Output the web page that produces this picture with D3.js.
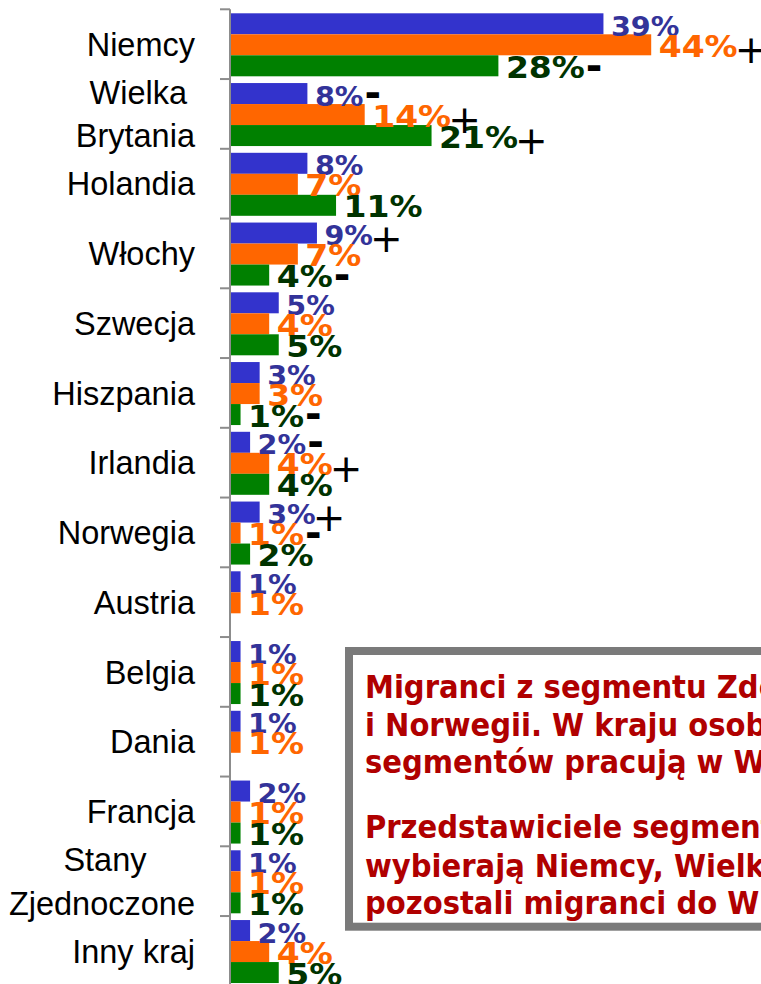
<!DOCTYPE html>
<html>
<head>
<meta charset="utf-8">
<script src="https://cdn.jsdelivr.net/npm/d3@7/dist/d3.min.js"></script>
<style>
  html, body { margin: 0; padding: 0; background: #fff; }
  svg { display: block; }
</style>
</head>
<body>
<script>
// ---------- DATA ----------
const categories = ["Niemcy", "Wielka Brytania", "Holandia", "Włochy", "Szwecja", "Hiszpania",
  "Irlandia", "Norwegia", "Austria", "Belgia", "Dania", "Francja", "Stany Zjednoczone", "Inny kraj"];
const categoryLabels = ["Niemcy", "Wielka\nBrytania", "Holandia", "Włochy", "Szwecja", "Hiszpania",
  "Irlandia", "Norwegia", "Austria", "Belgia", "Dania", "Francja", "Stany\nZjednoczone", "Inny kraj"];
const seriesBlue   = [39, 8, 8, 9, 5, 3, 2, 3, 1, 1, 1, 2, 1, 2];
const seriesOrange = [44, 14, 7, 7, 4, 3, 4, 1, 1, 1, 1, 1, 1, 4];
const seriesGreen  = [28, 21, 11, 4, 5, 1, 4, 2, null, 1, null, 1, 1, 5];

const signCategory = ["Niemcy", "Niemcy", "Wielka Brytania", "Wielka Brytania", "Wielka Brytania",
  "Włochy", "Włochy", "Hiszpania", "Irlandia", "Irlandia", "Norwegia", "Norwegia"];
const signSeries = [1, 2, 0, 1, 2, 0, 2, 2, 0, 1, 0, 1];
const signSymbol = ["+", "-", "-", "+", "+", "+", "-", "-", "-", "+", "+", "-"];

const boxParagraphs = [
  ["Migranci z segmentu Zdeterminowanych najczęściej wyjeżdżają do Niemiec",
   "i Norwegii. W kraju osoby z pozostałych",
   "segmentów pracują w Wielkiej Brytanii."],
  ["Przedstawiciele segmentu Zdeterminowanych częściej",
   "wybierają Niemcy, Wielką Brytanię i Włochy,",
   "pozostali migranci do Wielkiej Brytanii."]
];

// ---------- LAYOUT ----------
const W = 761, H = 984;
const svg = d3.select("body").append("svg").attr("width", W).attr("height", H);
svg.append("rect").attr("width", W).attr("height", H).attr("fill", "#fff");

const series = [seriesBlue, seriesOrange, seriesGreen];
const barColors = ["#3333CC", "#FF6600", "#008000"];
const labelColors = ["#333399", "#FF6600", "#003300"];
const labelSize = [27, 30, 30];
const labelScale = [1.06, 1.1, 1.1];

const x = d3.scaleLinear().domain([0, 50]).range([231, 231 + 477.5]);
const y0 = d3.scaleBand().domain(categories).range([9.3, 985.8]);
const y1 = d3.scaleBand().domain([0, 1, 2]).range([4, 67]);

const cells = [];
categories.forEach((c, i) => series.forEach((s, j) => {
  if (s[i] != null) cells.push({ c, j, v: s[i] });
}));

// bars
svg.append("g").selectAll("rect").data(cells).join("rect")
  .attr("x", x(0))
  .attr("y", d => y0(d.c) + y1(d.j))
  .attr("width", d => x(d.v) - x(0))
  .attr("height", y1.bandwidth())
  .attr("fill", d => barColors[d.j]);

// axis line + ticks at band boundaries
const axisG = svg.append("g");
axisG.append("line")
  .attr("x1", 230).attr("x2", 230)
  .attr("y1", y0.range()[0]).attr("y2", H)
  .attr("stroke", "#8c8c8c").attr("stroke-width", 2);
axisG.selectAll("line.tick").data(d3.range(categories.length + 1)).join("line")
  .attr("class", "tick")
  .attr("x1", 220).attr("x2", 230)
  .attr("y1", i => y0.range()[0] + i * y0.step())
  .attr("y2", i => y0.range()[0] + i * y0.step())
  .attr("stroke", "#8c8c8c").attr("stroke-width", 2);

// category labels
const catFont = 32.5, rightEdge = 195, lineGap = 43.5, capH = 23.3;
const catG = svg.append("g")
  .attr("font-family", "'Liberation Sans', Arial, sans-serif")
  .attr("font-size", catFont).attr("fill", "#000");
categories.forEach((c, i) => {
  const lines = categoryLabels[i].split("\n");
  const cy = y0(c) + y0.bandwidth() / 2;
  if (lines.length === 1) {
    catG.append("text").attr("x", rightEdge).attr("y", cy + capH / 2)
      .attr("text-anchor", "end").text(lines[0]);
  } else {
    const tmp = lines.map(l => catG.append("text").attr("text-anchor", "middle").text(l));
    const maxW = d3.max(tmp, t => t.node().getComputedTextLength());
    const cx = rightEdge - maxW / 2;
    tmp.forEach((t, k) => {
      const lc = cy + (k - (lines.length - 1) / 2) * lineGap;
      t.attr("x", cx + (k === 0 ? 3 : 0)).attr("y", lc + capH / 2);
    });
  }
});

// value labels
const labelG = svg.append("g")
  .attr("font-family", "'DejaVu Sans', Verdana, sans-serif")
  .attr("font-weight", "bold");
const labelNodes = {};
[0, 1, 2].forEach(j => {
  cells.filter(d => d.j === j).forEach(d => {
    const lx = x(d.v) + 7.5;
    const ly = y0(d.c) + y1(d.j) + y1.bandwidth() + 1.5;
    const t = labelG.append("text")
      .attr("transform", `translate(${lx},${ly}) scale(${labelScale[j]},1)`)
      .attr("font-size", labelSize[j])
      .attr("fill", labelColors[j])
      .text(d.v + "%");
    labelNodes[d.c + "|" + j] = { lx, len: t.node().getComputedTextLength() * labelScale[j] };
  });
});

// significance signs
const signG = svg.append("g").attr("fill", "#000");
signSymbol.forEach((s, k) => {
  const c = signCategory[k], j = signSeries[k];
  const info = labelNodes[c + "|" + j];
  const barCy = y0(c) + y1(j) + y1.bandwidth() / 2;
  const sx = info.lx + info.len + 1;
  if (s === "+") {
    signG.append("text").attr("x", sx - 4).attr("y", barCy + 4.5 + 14)
      .attr("font-family", "'DejaVu Sans', sans-serif").attr("font-size", 39)
      .text("+");
  } else {
    signG.append("text").attr("x", sx).attr("y", barCy + 1.5 + 12.4)
      .attr("font-family", "'DejaVu Sans', sans-serif").attr("font-weight", "bold")
      .attr("font-size", 40).text("-");
  }
});

// text box
const boxG = svg.append("g");
boxG.append("rect")
  .attr("x", 349).attr("y", 651).attr("width", 520).attr("height", 275.7)
  .attr("fill", "#fff").attr("stroke", "#7a7a7a").attr("stroke-width", 8);
const boxText = boxG.append("g")
  .attr("font-family", "'DejaVu Sans Condensed', 'DejaVu Sans', sans-serif")
  .attr("font-stretch", "condensed")
  .attr("font-weight", "bold").attr("font-size", 32.3).attr("fill", "#B00000");
const baselines = [[698.3, 735.5, 773.3], [838.3, 876.5, 914]];
boxParagraphs.forEach((p, pi) => p.forEach((line, li) => {
  boxText.append("text").attr("x", 365).attr("y", baselines[pi][li]).text(line);
}));
</script>
</body>
</html>
